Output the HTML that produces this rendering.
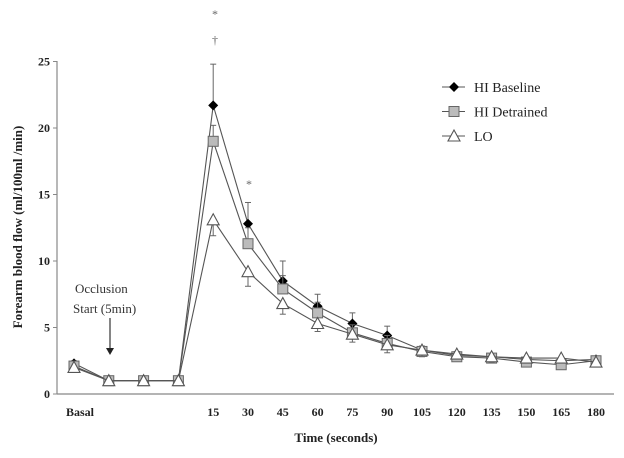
<!DOCTYPE html>
<html><head><meta charset="utf-8"><style>
body{margin:0;background:#fff}
svg{display:block;font-family:"Liberation Serif",serif}
</style></head><body>
<svg id="chart" width="624" height="458">
<g id="axes"></g><g id="series"></g>
<text x="22" y="227" transform="rotate(-90 22 227)" text-anchor="middle" font-weight="bold" font-size="13" fill="#222">Forearm blood flow (ml/100ml /min)</text>
<text x="336" y="442" text-anchor="middle" font-weight="bold" font-size="13" fill="#222">Time (seconds)</text>
<text x="75" y="293" font-size="13" fill="#333">Occlusion</text>
<text x="73" y="313" font-size="13" fill="#333">Start (5min)</text>
<g><line x1="110" y1="318" x2="110" y2="350" stroke="#333" stroke-width="1.2"/><polygon points="106,348 114,348 110,355" fill="#222"/></g>
<text x="215" y="18" text-anchor="middle" font-size="12" fill="#666">*</text>
<text x="215" y="44" text-anchor="middle" font-size="12" fill="#666">†</text>
<text x="249" y="188" text-anchor="middle" font-size="12" fill="#666">*</text>
<g id="legend"></g>
</svg>
<script>
const categories=["Basal","","","","15","30","45","60","75","90","105","120","135","150","165","180"];
const yTicks=[0,5,10,15,20,25];
const baseline=[2.3,1,1,1,21.7,12.8,8.5,6.6,5.3,4.4,3.3,2.9,2.8,2.6,2.5,2.6];
const baselineErr=[0.2,0,0,0,3.1,1.6,1.5,0.9,0.8,0.7,0.3,0.3,0.2,0.2,0.2,0.2];
const detrained=[2.1,1,1,1,19,11.3,7.9,6.1,4.6,3.8,3.2,2.8,2.7,2.4,2.2,2.5];
const detrainedErr=[0.2,0,0,0,1.2,1.2,1,0.8,0.6,0.6,0.4,0.3,0.3,0.3,0.3,0.2];
const lo=[2.0,1,1,1,13.1,9.2,6.8,5.3,4.5,3.7,3.3,3.0,2.8,2.7,2.7,2.4];
const loErr=[0.2,0,0,0,1.2,1.1,0.8,0.6,0.6,0.6,0.5,0.3,0.4,0.3,0.3,0.2];
const NS="http://www.w3.org/2000/svg";
const X=i=>74+i*34.8, Y=v=>394-v*13.3;
function mk(t,a,p){const e=document.createElementNS(NS,t);for(const k in a)e.setAttribute(k,a[k]);p.appendChild(e);return e;}
const ax=document.getElementById('axes'),sg=document.getElementById('series'),lg=document.getElementById('legend');
const yl=mk('line',{x1:57,y1:61,x2:57,y2:394,stroke:'#888','stroke-width':1.2},ax);


const xl=mk('line',{x1:57,y1:394,x2:614,y2:394,stroke:'#888','stroke-width':1.2},ax);


yTicks.forEach(v=>{mk('line',{x1:53,y1:Y(v),x2:57,y2:Y(v),stroke:'#888'},ax);
const t=mk('text',{x:50,y:Y(v)+4,'text-anchor':'end','font-size':12,'font-weight':'bold',fill:'#222'},ax);t.textContent=v;

});
categories.forEach((c,i)=>{if(!c)return;const t=mk('text',{x:c==="Basal"?X(i)+6:X(i),y:416,'text-anchor':'middle','font-size':12,'font-weight':'bold',fill:'#222'},ax);t.textContent=c;

});
function marker(type,x,y,p){
 if(type==='d')return mk('polygon',{points:`${x},${y-5} ${x+5},${y} ${x},${y+5} ${x-5},${y}`,fill:'#000'},p);
 if(type==='s')return mk('rect',{x:x-5,y:y-5,width:10,height:10,fill:'#bbb',stroke:'#666'},p);
 return mk('polygon',{points:`${x},${y-6} ${x+6},${y+5} ${x-6},${y+5}`,fill:'#fff',stroke:'#555','stroke-width':1.1},p);}
function series(name,vals,errs,type,dir){
 const g=mk('g',{},sg);
 
 
 vals.forEach((v,i)=>{if(!errs[i])return;const e=v+dir*errs[i];
  mk('line',{x1:X(i),y1:Y(v),x2:X(i),y2:Y(e),stroke:'#666'},g);
  mk('line',{x1:X(i)-3,y1:Y(e),x2:X(i)+3,y2:Y(e),stroke:'#666'},g);});
 mk('polyline',{points:vals.map((v,i)=>X(i)+','+Y(v)).join(' '),fill:'none',stroke:'#555','stroke-width':1.1},g);
 vals.forEach((v,i)=>{const m=marker(type,X(i),Y(v),g);
  
  });}
series('hi-baseline',baseline,baselineErr,'d',1);
series('hi-detrained',detrained,detrainedErr,'s',1);
series('lo',lo,loErr,'t',-1);
[['HI Baseline','d'],['HI Detrained','s'],['LO','t']].forEach((l,k)=>{const y=87+k*24.5;
 const g=mk('g',{},lg);
 
 
 mk('line',{x1:442,y1:y,x2:465,y2:y,stroke:'#555'},g);
 const m=marker(l[1],454,y,g);
 const t=mk('text',{x:474,y:y+5,'font-size':14,fill:'#222'},g);t.textContent=l[0];});
</script>
</body></html>
